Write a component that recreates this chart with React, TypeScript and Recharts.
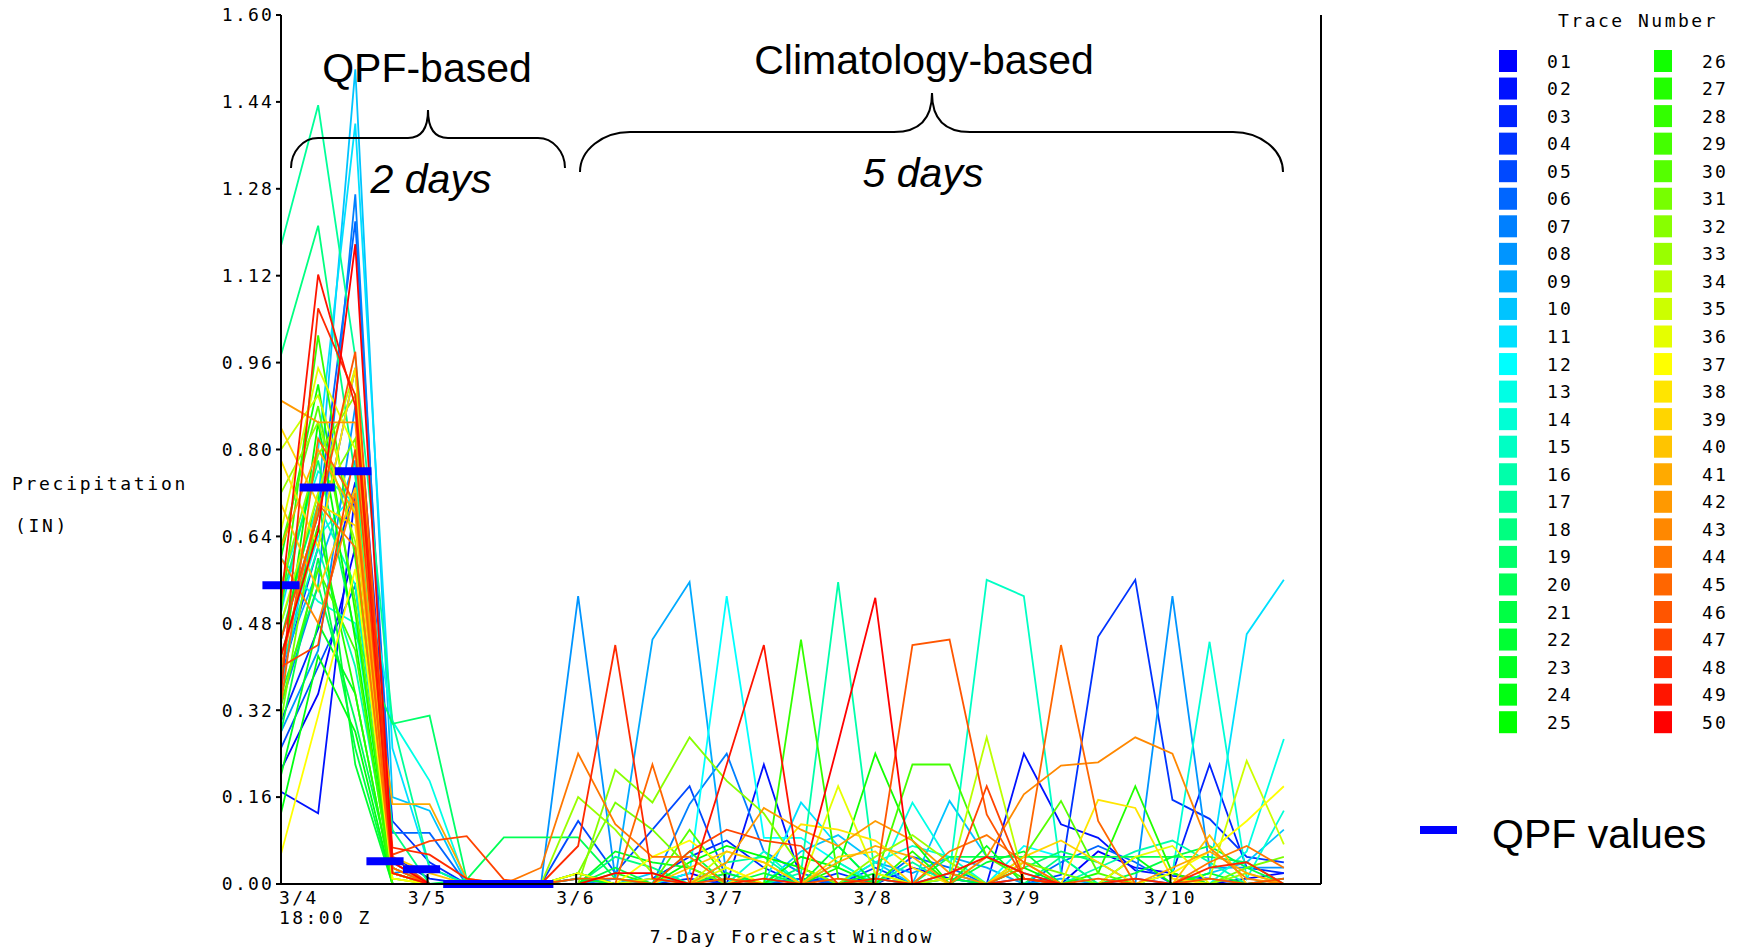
import React from 'react';
import { LineChart, Line, XAxis, YAxis, ReferenceLine } from 'recharts';

const MONO = '"DejaVu Sans Mono", "Liberation Mono", monospace';
const SANS = '"Liberation Sans", Arial, sans-serif';

// forecast hours from 3/4 18:00 Z, 6-hourly
const HOURS = [0, 6, 12, 18, 24, 30, 36, 42, 48, 54, 60, 66, 72, 78, 84, 90, 96, 102, 108, 114, 120, 126, 132, 138, 144, 150, 156, 162];

// precipitation (in) per trace, one value per HOURS entry
const t01 = [0.21, 0.35, 0.62, 0.02, 0, 0, 0, 0, 0.01, 0, 0, 0.02, 0, 0, 0.01, 0, 0, 0.03, 0.01, 0, 0, 0, 0.06, 0.03, 0.02, 0, 0.01, 0.02];
const t02 = [0.17, 0.13, 0.72, 0, 0, 0, 0, 0, 0, 0.01, 0, 0, 0, 0.22, 0.01, 0, 0, 0, 0.02, 0, 0.24, 0.11, 0.085, 0.025, 0.015, 0.01, 0, 0];
const t03 = [0.3, 0.47, 0.74, 0.05, 0.01, 0, 0, 0, 0.02, 0, 0.01, 0.05, 0.08, 0.03, 0, 0, 0.01, 0, 0, 0, 0.01, 0, 0, 0, 0.02, 0.22, 0.03, 0.02];
const t04 = [0.38, 0.62, 0.95, 0.116, 0.04, 0, 0, 0, 0, 0, 0, 0.01, 0, 0, 0, 0.02, 0, 0, 0, 0, 0, 0.017, 0.455, 0.56, 0.155, 0.12, 0.05, 0.04];
const t05 = [0.25, 0.4, 0.55, 0.03, 0, 0, 0, 0, 0.116, 0.02, 0.1, 0.18, 0.01, 0, 0, 0, 0.03, 0, 0, 0, 0, 0, 0, 0.01, 0, 0, 0, 0.01];
const t06 = [0.45, 0.68, 1.22, 0.094, 0.094, 0, 0, 0, 0, 0, 0, 0, 0.02, 0, 0.01, 0, 0, 0.05, 0.03, 0, 0, 0.04, 0.07, 0.04, 0, 0, 0, 0];
const t07 = [0.33, 0.55, 1.27, 0.02, 0.03, 0, 0, 0, 0, 0, 0, 0.147, 0.24, 0.06, 0.02, 0, 0, 0, 0, 0, 0, 0, 0, 0, 0, 0, 0, 0];
const t08 = [0.28, 0.43, 0.88, 0.04, 0, 0, 0, 0, 0.53, 0.01, 0, 0, 0, 0, 0, 0, 0, 0, 0.01, 0, 0, 0, 0, 0, 0.53, 0.03, 0.03, 0.03];
const t09 = [0.4, 0.58, 0.78, 0.03, 0, 0, 0, 0, 0, 0.01, 0.45, 0.556, 0.01, 0, 0, 0, 0.04, 0.02, 0.05, 0.03, 0, 0.01, 0, 0, 0, 0, 0, 0];
const t10 = [0.36, 0.7, 1.5, 0.16, 0.135, 0, 0, 0, 0, 0, 0.02, 0, 0, 0, 0.06, 0.09, 0.04, 0, 0.153, 0.05, 0.02, 0, 0, 0, 0, 0.02, 0.04, 0.1];
const t11 = [0.5, 0.8, 1.4, 0.25, 0.03, 0, 0, 0, 0, 0, 0, 0, 0, 0, 0.15, 0.07, 0, 0, 0, 0, 0, 0, 0, 0, 0, 0.02, 0.46, 0.56];
const t12 = [0.42, 0.64, 0.72, 0.05, 0, 0, 0, 0, 0, 0, 0, 0.02, 0.53, 0.085, 0.085, 0.04, 0, 0, 0, 0, 0.07, 0.05, 0, 0, 0, 0.01, 0, 0];
const t13 = [0.55, 0.76, 0.7, 0.3, 0.19, 0, 0, 0, 0, 0, 0, 0, 0, 0, 0, 0, 0, 0.15, 0.04, 0, 0, 0, 0, 0, 0, 0, 0.06, 0.267];
const t14 = [0.6, 0.52, 0.48, 0.02, 0, 0, 0, 0, 0.02, 0, 0, 0, 0, 0.06, 0, 0, 0.04, 0.07, 0.05, 0, 0, 0, 0, 0, 0.02, 0.446, 0.01, 0.135];
const t15 = [0.48, 0.7, 0.55, 0.03, 0, 0, 0, 0, 0, 0, 0, 0, 0, 0, 0, 0.04, 0, 0, 0.02, 0.56, 0.53, 0.02, 0, 0, 0, 0, 0, 0];
const t16 = [0.4, 0.62, 0.4, 0.02, 0, 0, 0, 0, 0, 0, 0, 0, 0, 0, 0.02, 0.556, 0.01, 0, 0, 0, 0, 0, 0.03, 0.06, 0.08, 0.04, 0, 0];
const t17 = [1.175, 1.434, 0.97, 0.3, 0.03, 0, 0, 0, 0, 0, 0, 0, 0.04, 0.05, 0, 0, 0, 0.04, 0, 0, 0, 0, 0, 0, 0, 0, 0, 0];
const t18 = [0.974, 1.212, 0.75, 0.1, 0, 0, 0, 0, 0, 0.05, 0.03, 0, 0, 0, 0, 0, 0, 0, 0, 0, 0, 0.05, 0, 0, 0, 0, 0, 0];
const t19 = [0.52, 0.78, 0.46, 0.295, 0.31, 0.008, 0, 0, 0, 0, 0, 0, 0, 0, 0.03, 0, 0, 0, 0, 0, 0.03, 0.06, 0.04, 0, 0.02, 0, 0, 0];
const t20 = [0.35, 0.55, 0.3, 0.02, 0, 0.008, 0.086, 0.086, 0.086, 0.01, 0, 0, 0, 0, 0, 0, 0, 0, 0.05, 0.05, 0.05, 0.05, 0.05, 0.05, 0.05, 0.05, 0.04, 0];
const t21 = [0.28, 0.6, 0.25, 0, 0, 0, 0, 0, 0, 0.03, 0, 0.06, 0, 0.02, 0, 0, 0, 0, 0.01, 0, 0, 0, 0, 0.02, 0.05, 0.07, 0.03, 0];
const t22 = [0.45, 0.72, 0.22, 0, 0, 0, 0, 0, 0.01, 0, 0, 0, 0.02, 0, 0, 0.07, 0, 0, 0, 0.04, 0.06, 0, 0, 0, 0, 0.02, 0, 0];
const t23 = [0.2, 0.48, 0.35, 0, 0, 0, 0, 0, 0, 0.06, 0.04, 0.03, 0, 0, 0, 0, 0.02, 0, 0, 0.07, 0, 0, 0, 0, 0, 0, 0, 0.01];
const t24 = [0.13, 0.42, 0.28, 0, 0, 0, 0, 0, 0, 0, 0, 0, 0, 0, 0.05, 0.03, 0, 0, 0, 0, 0, 0, 0, 0.05, 0, 0, 0, 0];
const t25 = [0.38, 0.85, 0.45, 0, 0, 0, 0, 0, 0.02, 0, 0, 0.04, 0.07, 0.05, 0.03, 0, 0, 0, 0, 0, 0.03, 0, 0, 0, 0, 0, 0, 0];
const t26 = [0.6, 0.92, 0.5, 0, 0, 0, 0, 0, 0, 0, 0, 0, 0, 0, 0, 0.03, 0.24, 0.08, 0, 0, 0, 0, 0, 0, 0, 0, 0, 0];
const t27 = [0.42, 0.66, 0.35, 0, 0, 0, 0, 0, 0, 0.02, 0, 0, 0, 0, 0, 0, 0, 0.06, 0, 0, 0, 0, 0.02, 0.18, 0.02, 0, 0, 0];
const t28 = [0.5, 1.01, 0.6, 0.02, 0, 0, 0, 0, 0, 0, 0, 0, 0, 0, 0.45, 0.01, 0, 0, 0, 0, 0, 0, 0, 0, 0, 0, 0, 0];
const t29 = [0.33, 0.58, 0.43, 0, 0, 0, 0, 0, 0, 0, 0, 0, 0, 0, 0, 0, 0.01, 0.22, 0.22, 0.05, 0.01, 0, 0, 0, 0, 0, 0, 0];
const t30 = [0.62, 0.88, 0.52, 0.01, 0, 0, 0, 0, 0, 0, 0, 0.1, 0.01, 0, 0, 0, 0, 0, 0, 0, 0.05, 0.153, 0.02, 0, 0, 0, 0, 0];
const t31 = [0.3, 0.7, 0.82, 0.02, 0, 0, 0, 0, 0.02, 0.15, 0.1, 0.03, 0, 0, 0, 0, 0, 0, 0, 0, 0.04, 0.02, 0, 0, 0, 0, 0.03, 0.05];
const t32 = [0.55, 0.79, 0.9, 0.03, 0, 0, 0, 0, 0, 0.21, 0.15, 0.27, 0.19, 0.13, 0.03, 0, 0, 0, 0, 0, 0, 0, 0, 0, 0, 0, 0, 0];
const t33 = [0.72, 0.85, 0.63, 0.01, 0, 0, 0, 0, 0.16, 0.1, 0.02, 0, 0, 0, 0, 0, 0.05, 0.09, 0.04, 0, 0, 0, 0, 0, 0, 0, 0.02, 0];
const t34 = [0.48, 0.72, 0.95, 0.02, 0, 0, 0, 0, 0, 0, 0, 0, 0, 0, 0, 0, 0, 0, 0.01, 0.27, 0.01, 0, 0, 0, 0, 0, 0, 0];
const t35 = [0.8, 0.9, 0.68, 0.02, 0, 0, 0, 0, 0, 0, 0.01, 0, 0.06, 0.04, 0, 0, 0, 0, 0, 0, 0, 0, 0, 0, 0, 0.01, 0.227, 0.073];
const t36 = [0.65, 0.95, 0.8, 0.03, 0, 0, 0, 0, 0, 0, 0, 0, 0.03, 0, 0, 0.18, 0.02, 0, 0, 0, 0, 0, 0, 0.05, 0.07, 0, 0, 0];
const t37 = [0.055, 0.31, 0.58, 0.01, 0, 0, 0, 0, 0.02, 0, 0.05, 0.08, 0.03, 0, 0, 0, 0, 0, 0, 0, 0, 0, 0, 0, 0.02, 0.06, 0.116, 0.18];
const t38 = [0.78, 0.62, 0.95, 0.02, 0, 0, 0, 0, 0, 0, 0, 0, 0, 0.03, 0.11, 0.1, 0.08, 0.03, 0, 0, 0, 0, 0.155, 0.14, 0.01, 0, 0, 0];
const t39 = [0.84, 0.7, 0.66, 0.04, 0, 0, 0, 0, 0, 0, 0, 0, 0, 0, 0, 0.05, 0.06, 0, 0, 0, 0.05, 0.08, 0.04, 0, 0, 0, 0, 0];
const t40 = [0.7, 0.54, 0.73, 0.05, 0.02, 0, 0, 0, 0, 0, 0, 0.03, 0.06, 0.04, 0, 0, 0, 0, 0, 0, 0.04, 0, 0, 0, 0, 0.09, 0, 0];
const t41 = [0.62, 0.8, 0.68, 0.147, 0.147, 0.01, 0, 0, 0, 0, 0, 0, 0, 0, 0, 0.04, 0.07, 0.05, 0, 0, 0, 0, 0, 0, 0.03, 0.06, 0.02, 0];
const t42 = [0.89, 0.85, 0.85, 0.04, 0, 0, 0, 0, 0, 0, 0, 0, 0.04, 0.14, 0.1, 0.07, 0.116, 0.08, 0.02, 0, 0, 0, 0, 0, 0, 0, 0, 0];
const t43 = [0.6, 0.48, 0.72, 0.03, 0, 0, 0, 0, 0, 0, 0, 0, 0, 0, 0, 0, 0, 0, 0, 0.05, 0.165, 0.218, 0.224, 0.27, 0.24, 0.067, 0.01, 0];
const t44 = [0.4, 0.7, 0.62, 0.02, 0, 0, 0, 0.03, 0.24, 0.11, 0.05, 0.05, 0, 0, 0, 0, 0, 0, 0.06, 0.09, 0.04, 0, 0, 0, 0, 0.04, 0.07, 0.03];
const t45 = [0.33, 0.82, 0.7, 0.03, 0, 0, 0, 0, 0, 0, 0.22, 0, 0, 0, 0, 0, 0, 0, 0, 0, 0.03, 0.44, 0.116, 0, 0, 0, 0, 0];
const t46 = [0.45, 0.68, 0.98, 0.05, 0, 0, 0, 0, 0.01, 0.01, 0, 0, 0.01, 0, 0, 0.01, 0, 0.44, 0.45, 0.128, 0.01, 0, 0.01, 0, 0, 0.01, 0, 0.01];
const t47 = [0.4, 0.44, 0.8, 0.054, 0.079, 0.088, 0.008, 0, 0, 0, 0, 0.06, 0.1, 0.08, 0.07, 0, 0, 0, 0, 0.18, 0.01, 0, 0, 0, 0, 0, 0, 0];
const t48 = [0.35, 1.06, 0.9, 0.067, 0.054, 0.01, 0, 0, 0.07, 0.44, 0.01, 0, 0, 0.01, 0, 0, 0.01, 0, 0, 0, 0.01, 0, 0, 0.01, 0, 0.03, 0.04, 0];
const t49 = [0.52, 1.122, 0.88, 0.02, 0, 0, 0, 0, 0, 0, 0, 0, 0.22, 0.44, 0, 0, 0, 0, 0.02, 0.05, 0.02, 0, 0, 0, 0, 0, 0, 0];
const t50 = [0.42, 0.65, 1.178, 0.04, 0, 0, 0, 0, 0, 0.02, 0.02, 0, 0, 0, 0, 0.26, 0.527, 0, 0, 0, 0, 0, 0, 0, 0, 0, 0, 0];

const TRACES = [t01, t02, t03, t04, t05, t06, t07, t08, t09, t10, t11, t12, t13, t14, t15, t16, t17, t18, t19, t20, t21, t22, t23, t24, t25,
  t26, t27, t28, t29, t30, t31, t32, t33, t34, t35, t36, t37, t38, t39, t40, t41, t42, t43, t44, t45, t46, t47, t48, t49, t50];

const TRACE_NAMES = ['01', '02', '03', '04', '05', '06', '07', '08', '09', '10', '11', '12', '13', '14', '15', '16', '17', '18', '19', '20', '21', '22', '23', '24', '25',
  '26', '27', '28', '29', '30', '31', '32', '33', '34', '35', '36', '37', '38', '39', '40', '41', '42', '43', '44', '45', '46', '47', '48', '49', '50'];

const TRACE_COLORS = ['#0000ff', '#0011ff', '#0022ff', '#0033ff', '#0049ff', '#0066ff', '#0080ff', '#0095ff', '#00aaff', '#00c4ff',
  '#00e0ff', '#00ffff', '#00ffe5', '#00ffd5', '#00ffc4', '#00ffaa', '#00ff99', '#00ff80', '#00ff6a', '#00ff55',
  '#00ff44', '#00ff33', '#00ff22', '#00ff11', '#00ff00', '#11ff00', '#22ff00', '#33ff00', '#44ff00', '#55ff00',
  '#77ff00', '#88ff00', '#99ff00', '#bbff00', '#ccff00', '#e5ff00', '#ffff00', '#ffe500', '#ffd500', '#ffc400',
  '#ffaa00', '#ff9900', '#ff8800', '#ff7700', '#ff6600', '#ff5500', '#ff4400', '#ff2a00', '#ff1500', '#ff0000'];

// QPF 6-h values (start hour, end hour, inches)
const QPF_START = [-3, 3, 8.7, 13.8, 19.7, 26.2];
const QPF_END = [3, 8.7, 14.6, 19.8, 25.7, 44];
const QPF_VALUES = [0.55, 0.73, 0.76, 0.042, 0.027, 0];

const X_TICKS = [0, 24, 48, 72, 96, 120, 144];
const X_TICK_LABELS = ['3/4', '3/5', '3/6', '3/7', '3/8', '3/9', '3/10'];
const FIRST_TICK_TIME = '18:00 Z';
const Y_TICKS = [0, 0.16, 0.32, 0.48, 0.64, 0.8, 0.96, 1.12, 1.28, 1.44, 1.6];

const rows = HOURS.map((h, i) => {
  const r: Record<string, number> = { h };
  TRACES.forEach((arr, k) => {
    r['t' + TRACE_NAMES[k]] = arr[i];
  });
  return r;
});

const W = 1737;
const H = 949;
const PLOT_L = 281;
const PLOT_R = 1321;
const PLOT_T = 15;
const PLOT_B = 884;
const Y_AXIS_W = 60;
const X_AXIS_H = 40;

const monoText = { fontFamily: MONO, fontSize: 18, fill: '#000' };

function XTick(props: any) {
  const { x, y, payload } = props;
  const idx = X_TICKS.indexOf(payload.value);
  const label = X_TICK_LABELS[idx];
  if (idx === 0) {
    return (
      <g>
        <text x={x - 2} y={y + 19.5} textAnchor="start" letterSpacing={2.4} {...monoText}>{label}</text>
        <text x={x - 2} y={y + 39.5} textAnchor="start" letterSpacing={2.4} {...monoText}>{FIRST_TICK_TIME}</text>
      </g>
    );
  }
  return (
    <g>
      <line x1={x - 2} x2={x - 2} y1={y} y2={y - 10} stroke="#000" strokeWidth={2} />
      <text x={x - 2} y={y + 19.5} textAnchor="middle" letterSpacing={2.4} {...monoText}>{label}</text>
    </g>
  );
}

function bracePath(x0: number, x1: number, xt: number, yH: number, yEnd: number, yTip: number, r: number, r2: number) {
  const dE = yEnd - yH;
  const dT = yH - yTip;
  return [
    `M ${x0} ${yEnd}`,
    `C ${x0} ${yH + 0.45 * dE} ${x0 + 0.45 * r} ${yH} ${x0 + r} ${yH}`,
    `L ${xt - r2} ${yH}`,
    `C ${xt - 0.35 * r2} ${yH} ${xt} ${yH - 0.3 * dT} ${xt} ${yTip}`,
    `C ${xt} ${yH - 0.3 * dT} ${xt + 0.35 * r2} ${yH} ${xt + r2} ${yH}`,
    `L ${x1 - r} ${yH}`,
    `C ${x1 - 0.45 * r} ${yH} ${x1} ${yH + 0.45 * dE} ${x1} ${yEnd}`,
  ].join(' ');
}

export default function App() {
  return (
    <div style={{ position: 'absolute', left: 0, top: 0, width: W, height: H, background: '#fff', overflow: 'hidden' }}>
      <LineChart
        width={W}
        height={H}
        data={rows}
        margin={{ top: PLOT_T, right: W - PLOT_R, bottom: H - PLOT_B - X_AXIS_H, left: PLOT_L - Y_AXIS_W }}
      >
        <XAxis
          dataKey="h"
          type="number"
          domain={[0, 168]}
          ticks={X_TICKS}
          interval={0}
          height={X_AXIS_H}
          tickSize={0}
          tickMargin={0}
          tickLine={false}
          axisLine={{ stroke: '#000', strokeWidth: 2 }}
          tick={<XTick />}
        />
        <YAxis
          type="number"
          domain={[0, 1.6]}
          ticks={Y_TICKS}
          interval={0}
          width={Y_AXIS_W}
          tickSize={5}
          tickMargin={2}
          axisLine={{ stroke: '#000', strokeWidth: 2 }}
          tickLine={{ stroke: '#000', strokeWidth: 2 }}
          tickFormatter={(v: number) => v.toFixed(2)}
          tick={{ fill: '#000', fontFamily: MONO, fontSize: 18, letterSpacing: 2.2 }}
        />
        {TRACE_NAMES.map((n, k) => (
          <Line
            key={n}
            dataKey={'t' + n}
            type="linear"
            stroke={TRACE_COLORS[k]}
            strokeWidth={1.8}
            dot={false}
            activeDot={false}
            isAnimationActive={false}
          />
        ))}
        <ReferenceLine x={168} stroke="#000" strokeWidth={2} />
        {QPF_VALUES.map((v, i) => (
          <ReferenceLine
            key={'qpf' + i}
            segment={[{ x: QPF_START[i], y: v }, { x: QPF_END[i], y: v }]}
            stroke="#0000ff"
            strokeWidth={8}
            ifOverflow="visible"
          />
        ))}
      </LineChart>
      <svg width={W} height={H} style={{ position: 'absolute', left: 0, top: 0, pointerEvents: 'none' }}>
        <text x={12} y={489.5} letterSpacing={2.7} {...monoText}>Precipitation</text>
        <text x={15} y={532} letterSpacing={2.7} {...monoText}>(IN)</text>
        <text x={792} y={943} textAnchor="middle" letterSpacing={2.7} {...monoText}>7-Day Forecast Window</text>

        <path d={bracePath(291, 565, 428, 138, 168, 110, 27, 20)} fill="none" stroke="#000" strokeWidth={2} />
        <path d={bracePath(580, 1283, 932, 132, 172, 93, 50, 38)} fill="none" stroke="#000" strokeWidth={2} />
        <text x={427} y={82} textAnchor="middle" fontFamily={SANS} fontSize={41} fill="#000">QPF-based</text>
        <text x={431} y={193} textAnchor="middle" fontFamily={SANS} fontSize={41} fontStyle="italic" fill="#000">2 days</text>
        <text x={924} y={74} textAnchor="middle" fontFamily={SANS} fontSize={41} fill="#000">Climatology-based</text>
        <text x={923} y={187} textAnchor="middle" fontFamily={SANS} fontSize={41} fontStyle="italic" fill="#000">5 days</text>

        <text x={1558} y={26.5} letterSpacing={2.5} {...monoText}>Trace Number</text>
        {TRACE_NAMES.map((n, k) => {
          const col = k < 25 ? 0 : 1;
          const row = k % 25;
          const sx = col === 0 ? 1499 : 1654;
          const lx = col === 0 ? 1547 : 1702;
          const top = 50 + row * 27.55;
          return (
            <g key={'lg' + n}>
              <rect x={sx} y={top} width={18} height={22} fill={TRACE_COLORS[k]} />
              <text x={lx} y={top + 17.5} letterSpacing={2.2} {...monoText}>{n}</text>
            </g>
          );
        })}

        <rect x={1420} y={826} width={37} height={8} fill="#0000ff" />
        <text x={1492} y={848} fontFamily={SANS} fontSize={41} fill="#000">QPF values</text>
      </svg>
    </div>
  );
}
